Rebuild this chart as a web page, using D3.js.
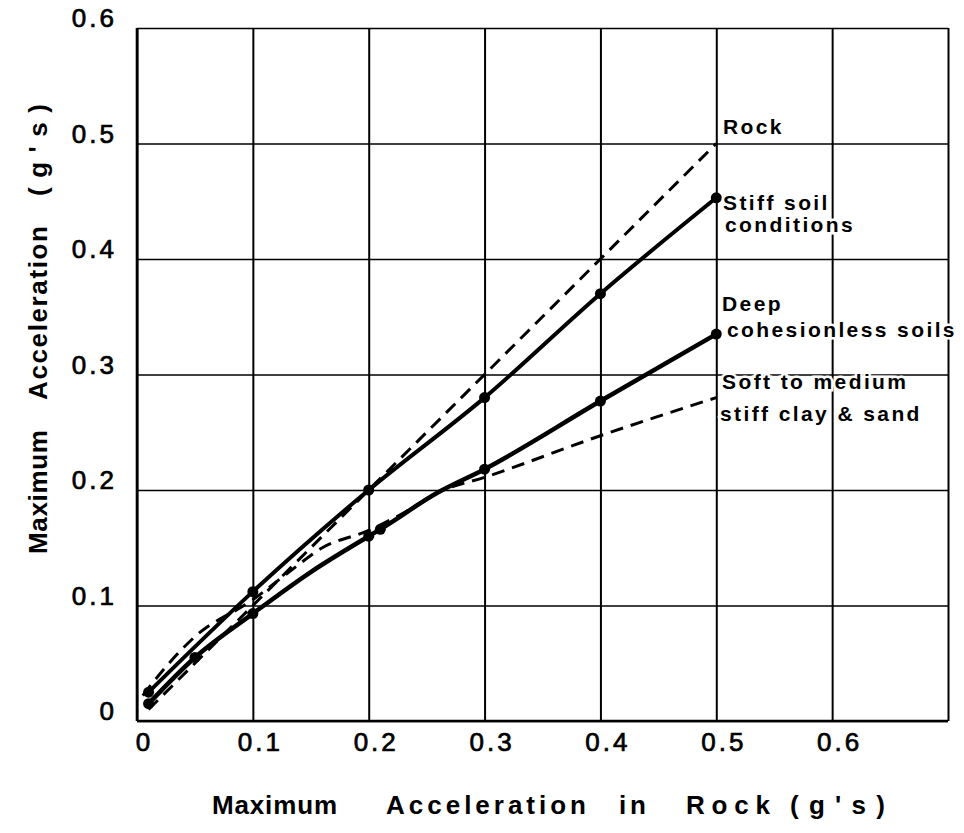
<!DOCTYPE html>
<html>
<head>
<meta charset="utf-8">
<script src="https://cdn.jsdelivr.net/npm/d3@7"></script>
<style>
  body { margin: 0; background: #fff; }
  text { font-family: "Liberation Sans", Arial, sans-serif; fill: #000; }
</style>
</head>
<body>
<svg id="chart"></svg>
<script>
// ticks
const xTicks = [0, 0.1, 0.2, 0.3, 0.4, 0.5, 0.6, 0.7];
const xTickLabels = ["0", "0.1", "0.2", "0.3", "0.4", "0.5", "0.6", ""];
const yTicks = [0, 0.1, 0.2, 0.3, 0.4, 0.5, 0.6];
const yTickLabels = ["0", "0.1", "0.2", "0.3", "0.4", "0.5", "0.6"];

// curves
const rockX = [0.01, 0.5];
const rockY = [0.01, 0.5];

const stiffX = [0.01, 0.1, 0.2, 0.3, 0.4, 0.5];
const stiffY = [0.025, 0.112, 0.2, 0.28, 0.37, 0.453];
const stiffDots = [0.01, 0.1, 0.2, 0.3, 0.4, 0.5];

const deepX = [0.01, 0.05, 0.1, 0.15, 0.2, 0.21, 0.26, 0.3, 0.4, 0.5];
const deepY = [0.015, 0.055, 0.093, 0.129, 0.16, 0.166, 0.198, 0.218, 0.277, 0.335];
const deepDots = [0.01, 0.05, 0.1, 0.2, 0.21, 0.3, 0.4, 0.5];

const softX = [0.005, 0.025, 0.05, 0.1, 0.13, 0.16, 0.2, 0.23, 0.265, 0.3, 0.4, 0.5];
const softY = [0.022, 0.047, 0.073, 0.105, 0.128, 0.15, 0.165, 0.18, 0.2, 0.211, 0.247, 0.28];

const width = 964;
const height = 833;

const svg = d3.select('#chart')
  .attr('width', width)
  .attr('height', height);

const x = d3.scaleLinear().domain([0, 0.7]).range([137, 948]);
const y = d3.scaleLinear().domain([0, 0.6]).range([721, 28]);

// vertical grid
svg.append('g')
  .attr('transform', `translate(0, ${y(0)})`)
  .call(d3.axisBottom(x)
    .tickValues(xTicks)
    .tickSize(-(y(0) - y(0.6)))
    .tickPadding(12)
    .tickFormat((d, i) => xTickLabels[i]))
  .call(g => g.select('.domain').remove())
  .call(g => g.selectAll('line').attr('stroke', '#000').attr('stroke-width', 2))
  .call(g => g.selectAll('text')
    .attr('dx', 7)
    .attr('stroke', '#000')
    .attr('stroke-width', 0.7)
    .style('font-size', '26px')
    .style('letter-spacing', '3px'));

// horizontal grid
svg.append('g')
  .attr('transform', `translate(${x(0)}, 0)`)
  .call(d3.axisLeft(y)
    .tickValues(yTicks)
    .tickSize(-(x(0.7) - x(0)))
    .tickPadding(20)
    .tickFormat((d, i) => yTickLabels[i]))
  .call(g => g.select('.domain').remove())
  .call(g => g.selectAll('line').attr('stroke', '#000').attr('stroke-width', 1.6))
  .call(g => g.selectAll('text')
    .attr('dy', '-0.05em')
    .attr('stroke', '#000')
    .attr('stroke-width', 0.7)
    .style('font-size', '26px')
    .style('letter-spacing', '3px'));

// left and bottom frame a bit heavier
svg.append('line')
  .attr('x1', x(0)).attr('x2', x(0))
  .attr('y1', y(0.6)).attr('y2', y(0))
  .attr('stroke', '#000').attr('stroke-width', 2.6);
svg.append('line')
  .attr('x1', x(0)).attr('x2', x(0.7))
  .attr('y1', y(0)).attr('y2', y(0))
  .attr('stroke', '#000').attr('stroke-width', 2.4);

const line = d3.line()
  .x(d => x(d[0]))
  .y(d => y(d[1]))
  .curve(d3.curveMonotoneX);

const zip = (xs, ys) => xs.map((v, i) => [v, ys[i]]);

const curves = [
  { xs: rockX, ys: rockY, dash: '13,8', w: 3 },
  { xs: softX, ys: softY, dash: '13,8', w: 3 },
  { xs: stiffX, ys: stiffY, dash: null, w: 4 },
  { xs: deepX, ys: deepY, dash: null, w: 4.5 }
];

svg.append('g').selectAll('path')
  .data(curves)
  .enter()
  .append('path')
  .attr('d', c => line(zip(c.xs, c.ys)))
  .attr('fill', 'none')
  .attr('stroke', '#000')
  .attr('stroke-width', c => c.w)
  .attr('stroke-dasharray', c => c.dash);

const dots = [];
stiffDots.forEach(v => dots.push([v, stiffY[stiffX.indexOf(v)]]));
deepDots.forEach(v => dots.push([v, deepY[deepX.indexOf(v)]]));

svg.append('g').selectAll('circle')
  .data(dots)
  .enter()
  .append('circle')
  .attr('cx', d => x(d[0]))
  .attr('cy', d => y(d[1]))
  .attr('r', 5.5)
  .attr('fill', '#000');

// curve labels
const labels = [
  { t: 'Rock', x: 723, y: 134 },
  { t: 'Stiff soil', x: 723, y: 210 },
  { t: 'conditions', x: 725, y: 232 },
  { t: 'Deep', x: 722, y: 311 },
  { t: 'cohesionless soils', x: 727, y: 337 },
  { t: 'Soft to medium', x: 722, y: 389 },
  { t: 'stiff clay & sand', x: 720, y: 421 }
];

svg.append('g').selectAll('text')
  .data(labels)
  .enter()
  .append('text')
  .attr('x', d => d.x)
  .attr('y', d => d.y)
  .text(d => d.t)
  .style('font-size', '21px')
  .style('font-weight', 'bold')
  .style('letter-spacing', '2.4px')
  .attr('stroke', '#fff')
  .attr('stroke-width', 5)
  .attr('paint-order', 'stroke');

// axis titles, word by word as in the scan
const xTitle = [
  { t: 'Maximum', a: 212, b: 337 },
  { t: 'Acceleration', a: 386, b: 586 },
  { t: 'in', a: 619, b: 646 },
  { t: 'Rock', a: 686, b: 770 },
  { t: "(g's)", a: 790, b: 885 }
];
svg.append('g').selectAll('text')
  .data(xTitle)
  .enter()
  .append('text')
  .attr('x', d => d.a)
  .attr('y', 814)
  .attr('textLength', d => d.b - d.a)
  .attr('lengthAdjust', 'spacing')
  .text(d => d.t)
  .style('font-size', '26px')
  .style('font-weight', 'bold');

const yTitle = [
  { t: 'Maximum', a: 430, b: 554 },
  { t: 'Acceleration', a: 226, b: 400 },
  { t: "(g's)", a: 104, b: 196 }
];
svg.append('g')
  .attr('transform', 'translate(47, 0) rotate(-90)')
  .selectAll('text')
  .data(yTitle)
  .enter()
  .append('text')
  .attr('x', d => -d.b)
  .attr('y', 0)
  .attr('textLength', d => d.b - d.a)
  .attr('lengthAdjust', 'spacing')
  .text(d => d.t)
  .style('font-size', '26px')
  .style('font-weight', 'bold');
</script>
</body>
</html>
